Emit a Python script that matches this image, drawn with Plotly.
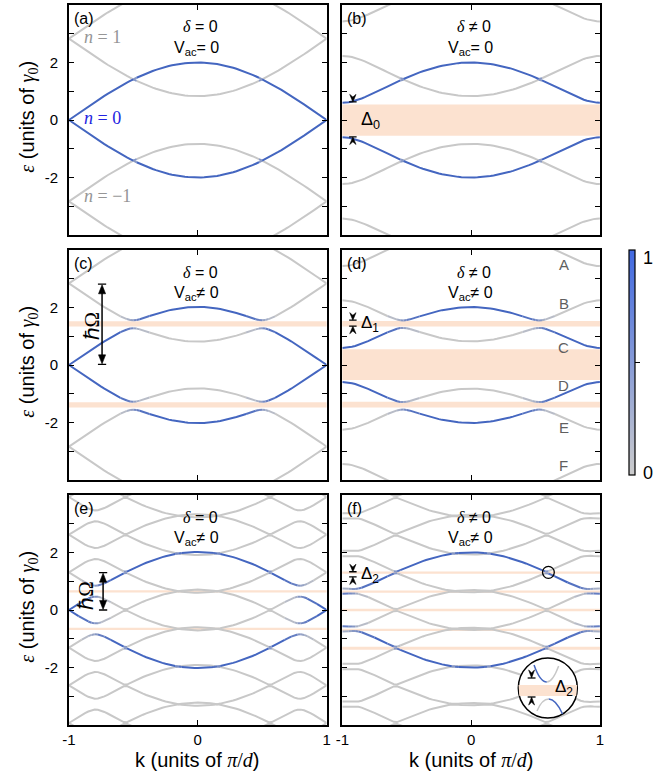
import numpy as np
import plotly.graph_objects as go

# ---------------- data ----------------
K_HALF = [-1.0, -0.975, -0.95, -0.925, -0.9, -0.875, -0.85, -0.825, -0.8, -0.775,
          -0.75, -0.725, -0.7, -0.675, -0.65, -0.625, -0.6, -0.575, -0.55, -0.525,
          -0.5, -0.475, -0.45, -0.425, -0.4, -0.375, -0.35, -0.325, -0.3, -0.275,
          -0.25, -0.225, -0.2, -0.175, -0.15, -0.125, -0.1, -0.075, -0.05, -0.025, 0.0]
# n = 0 band (upper branch), delta = 0
E_FLAT_HALF = [0.000, 0.079, 0.157, 0.235, 0.313, 0.390, 0.467, 0.543, 0.618, 0.692,
               0.765, 0.837, 0.908, 0.977, 1.045, 1.111, 1.176, 1.238, 1.299, 1.358,
               1.414, 1.469, 1.521, 1.571, 1.618, 1.663, 1.705, 1.745, 1.782, 1.816,
               1.848, 1.876, 1.902, 1.925, 1.945, 1.962, 1.975, 1.986, 1.994, 1.998, 2.000]
# n = 0 band (upper branch), delta != 0
E_GAP_HALF = [0.600, 0.605, 0.618, 0.641, 0.670, 0.706, 0.747, 0.793, 0.841, 0.892,
              0.945, 0.999, 1.054, 1.109, 1.164, 1.218, 1.272, 1.325, 1.377, 1.427,
              1.477, 1.524, 1.570, 1.614, 1.656, 1.696, 1.734, 1.770, 1.803, 1.834,
              1.862, 1.888, 1.911, 1.932, 1.950, 1.965, 1.978, 1.987, 1.994, 1.999, 2.000]

PANEL_TAGS = ["(a)", "(b)", "(c)", "(d)", "(e)", "(f)"]
OMEGA = [2.83, 2.83, 2.83, 2.83, 1.31, 1.31]          # hbar*Omega
DISPERSION = ["flat", "gap", "flat", "gap", "flat", "gap"]
G_INTER = [0.0, 0.0, 0.14, 0.13, 0.19, 0.08]           # drive coupling (interband)
G_INTRA = [0.0, 0.0, 0.0, 0.15, 0.0, 0.2]              # drive coupling (intraband)
N_REPLICA = [1, 1, 1, 1, 5, 5]
DELTA_TXT = ["= 0", "≠ 0", "= 0", "≠ 0", "= 0", "≠ 0"]
VAC_TXT = ["= 0", "= 0", "≠ 0", "≠ 0", "≠ 0", "≠ 0"]
GAP_BANDS = [
    [],
    [(-0.55, 0.54)],
    [(1.34, 1.52), (-1.48, -1.30)],
    [(1.34, 1.53), (-0.52, 0.55), (-1.48, -1.28)],
    [(0.61, 0.69), (-0.70, -0.62)],
    [(1.26, 1.34), (0.60, 0.68), (-0.04, 0.04), (-0.73, -0.65), (-1.38, -1.28)],
]
Y_TICKS = [-2, 0, 2]
Y_TICK_TEXT = ["-2", "0", "2"]
Y_MINOR = [-3, -1, 1, 3]
X_TICKS = [-1, 0, 1]
X_TICK_TEXT = ["-1", "0", "1"]
D_LABELS = ["A", "B", "C", "D", "E", "F"]
D_LABEL_E = [3.51, 2.14, 0.61, -0.73, -2.16, -3.48]
D_LABEL_K = 0.72

# ---------------- style ----------------
W, H = 659, 774
SANS = "Liberation Sans, Arial, sans-serif"
SERIF = "Liberation Serif, Times New Roman, serif"
GRAY = (200, 200, 200)
BLUE = (68, 102, 192)
PEACH = "rgb(252,226,208)"
LEVELS = 8
XL = [63, 341]
YT = [5, 250, 495]
PW, PH = 262, 230
KPX = 2.0 / PW
EPX = 8.0 / PH


def P(xp, yp):
    return xp / W, 1 - yp / H


def mix(t):
    c = [round(GRAY[i] + t * (BLUE[i] - GRAY[i])) for i in range(3)]
    return f"rgb({c[0]},{c[1]},{c[2]})"


K = K_HALF + [-k for k in K_HALF[-2::-1]]
E_FLAT = E_FLAT_HALF + E_FLAT_HALF[-2::-1]
E_GAP = E_GAP_HALF + E_GAP_HALF[-2::-1]


def floquet(E, omega, N, ga, gi):
    basis = [(n, s) for n in range(-N, N + 1) for s in (1, -1)]
    idx = {b: i for i, b in enumerate(basis)}
    dim = len(basis)
    V = {(1, -1): ga, (-1, 1): ga, (1, 1): gi, (-1, -1): -gi}
    mask = np.array([1.0 if b[0] == 0 else 0.0 for b in basis])
    vals = np.zeros((len(E), dim))
    wts = np.zeros((len(E), dim))
    for i, e in enumerate(E):
        Hm = np.zeros((dim, dim))
        for (n, s) in basis:
            Hm[idx[(n, s)], idx[(n, s)]] = n * omega + s * e
            if n < N:
                for s2 in (1, -1):
                    v = V[(s, s2)]
                    Hm[idx[(n, s)], idx[(n + 1, s2)]] = v
                    Hm[idx[(n + 1, s2)], idx[(n, s)]] = v
        w, U = np.linalg.eigh(Hm)
        vals[i] = w
        wts[i] = ((np.abs(U) ** 2) * mask[:, None]).sum(axis=0)
    return vals, wts


fig = go.Figure()
shapes = []
annots = []
layout_axes = {}

for p in range(6):
    row, col = p // 2, p % 2
    sfx = "" if p == 0 else str(p + 1)
    xa, ya = "x" + sfx, "y" + sfx
    E = E_FLAT if DISPERSION[p] == "flat" else E_GAP
    vals, wts = floquet(E, OMEGA[p], N_REPLICA[p], G_INTER[p], G_INTRA[p])
    segs = {l: ([], []) for l in range(LEVELS + 1)}
    nk = len(K)
    for j in range(vals.shape[1]):
        y = vals[:, j]
        w = wts[:, j]
        if np.all(np.abs(y) > 4.6):
            continue
        lev = [int(round(0.5 * (w[i] + w[i + 1]) * LEVELS)) for i in range(nk - 1)]
        start = 0
        for i in range(1, len(lev) + 1):
            if i == len(lev) or lev[i] != lev[start]:
                xs = K[start:i + 1]
                ys = list(y[start:i + 1])
                segs[lev[start]][0].extend(list(xs) + [None])
                segs[lev[start]][1].extend(ys + [None])
                start = i
    for l in range(LEVELS + 1):
        xs, ys = segs[l]
        if not xs:
            continue
        fig.add_trace(go.Scatter(x=xs, y=ys, mode="lines", xaxis=xa, yaxis=ya,
                                 line=dict(color=mix(l / LEVELS), width=2),
                                 hoverinfo="skip", showlegend=False, connectgaps=False))

    x0p, x1p = XL[col], XL[col] + PW
    y0p, y1p = YT[row], YT[row] + PH
    bottom = row == 2
    left = col == 0
    layout_axes["xaxis" + sfx] = dict(
        domain=[x0p / W, x1p / W], range=[-1, 1], anchor=ya,
        showline=True, mirror="ticks", linecolor="black", linewidth=1.6,
        ticks="inside", ticklen=5, tickwidth=1.2, tickcolor="black",
        tickvals=X_TICKS, ticktext=X_TICK_TEXT, showticklabels=bottom,
        ticklabelstandoff=0,
        tickfont=dict(family=SANS, size=15, color="black"),
        showgrid=False, zeroline=False, fixedrange=True)
    layout_axes["yaxis" + sfx] = dict(
        domain=[1 - y1p / H, 1 - y0p / H], range=[-4, 4], anchor=xa,
        showline=True, mirror="ticks", linecolor="black", linewidth=1.6,
        ticks="inside", ticklen=5, tickwidth=1.2, tickcolor="black",
        tickvals=Y_TICKS, ticktext=Y_TICK_TEXT, showticklabels=left,
        minor=dict(tickmode="array", tickvals=Y_MINOR, ticks="inside", ticklen=5,
                   tickwidth=1.2, tickcolor="black", showgrid=False),
        ticklabelstandoff=6,
        tickfont=dict(family=SANS, size=15, color="black"),
        showgrid=False, zeroline=False, fixedrange=True)

    for (b0, b1) in GAP_BANDS[p]:
        shapes.append(dict(type="rect", xref=xa + " domain", yref=ya, x0=0, x1=1,
                           y0=b0, y1=b1, fillcolor=PEACH, line=dict(width=0), layer="below"))

    # panel tag and parameter text
    tx, ty = P(x0p + 3, y0p + 13)
    annots.append(dict(x=tx, y=ty, xref="paper", yref="paper", xanchor="left", yanchor="middle",
                       text=PANEL_TAGS[p], showarrow=False, font=dict(family=SANS, size=16, color="black")))
    tx, ty = P(x0p + PW / 2 + 3, y0p + 22)
    annots.append(dict(x=tx, y=ty, xref="paper", yref="paper", xanchor="center", yanchor="middle",
                       text=f'<span style="font-family:{SERIF}"><i>δ</i></span> {DELTA_TXT[p]}',
                       showarrow=False, font=dict(family=SANS, size=16, color="black")))
    tx, ty = P(x0p + PW / 2 - 1, y0p + 43)
    annots.append(dict(x=tx, y=ty, xref="paper", yref="paper", xanchor="center", yanchor="middle",
                       text=f"V<sub>ac</sub>{VAC_TXT[p]}",
                       showarrow=False, font=dict(family=SANS, size=16, color="black")))
    if left:
        tx, ty = P(21, y0p + PH / 2 - 3)
        annots.append(dict(x=tx, y=ty, xref="paper", yref="paper", xanchor="center", yanchor="middle",
                           textangle=-90,
                           text=(f'<span style="font-family:{SERIF}"><i>ε</i></span> (units of '
                                 f'<span style="font-family:{SERIF}"><i>γ</i><sub>0</sub></span>)'),
                           showarrow=False, font=dict(family=SANS, size=20, color="black")))
    if bottom:
        tx, ty = P(x0p + PW / 2, 760)
        annots.append(dict(x=tx, y=ty, xref="paper", yref="paper", xanchor="center", yanchor="middle",
                           text=(f'k (units of <span style="font-family:{SERIF}"><i>π</i>/<i>d</i></span>)'),
                           showarrow=False, font=dict(family=SANS, size=20, color="black")))


def ax_names(p):
    sfx = "" if p == 0 else str(p + 1)
    return "x" + sfx, "y" + sfx


def head(p, xc, ytip, up, w_px=3.2, h_px=7.5, notch=0.35):
    xa, ya = ax_names(p)
    dx = w_px * KPX
    dy = h_px * EPX * (1 if up else -1)
    yb = ytip - dy
    yn = ytip - dy * (1 - notch)
    shapes.append(dict(type="path", xref=xa, yref=ya,
                       path=f"M {xc-dx},{yb} L {xc},{ytip} L {xc+dx},{yb} L {xc},{yn} Z",
                       fillcolor="black", line=dict(color="black", width=0.6)))


def bar(p, xc, y, w_px=3.8, width=1.3):
    xa, ya = ax_names(p)
    shapes.append(dict(type="line", xref=xa, yref=ya, x0=xc - w_px * KPX, x1=xc + w_px * KPX,
                       y0=y, y1=y, line=dict(color="black", width=width)))


def gap_marker(p, xc, ytop, ybot):
    bar(p, xc, ytop)
    head(p, xc, ytop, up=False)
    bar(p, xc, ybot)
    head(p, xc, ybot, up=True)


def text_at(p, k, e, txt, size, anchor="left", color="black", family=SANS, angle=0):
    xa, ya = ax_names(p)
    annots.append(dict(x=k, y=e, xref=xa, yref=ya, xanchor=anchor, yanchor="middle", text=txt,
                       showarrow=False, textangle=angle, font=dict(family=family, size=size, color=color)))


def omega_arrow(p, xc, y0, y1):
    xa, ya = ax_names(p)
    shapes.append(dict(type="line", xref=xa, yref=ya, x0=xc, x1=xc, y0=y0 + 0.2, y1=y1 - 0.2,
                       line=dict(color="black", width=1.5)))
    bar(p, xc, y0, w_px=4.2)
    bar(p, xc, y1, w_px=4.2)
    head(p, xc, y0 + 0.02, up=False, w_px=3.6, h_px=9, notch=0.0)
    head(p, xc, y1 - 0.02, up=True, w_px=3.6, h_px=9, notch=0.0)


# panel (a) replica labels
text_at(0, -0.90, 2.87, f"<i>n</i>\u00a0=\u00a01", 18, color="rgb(150,150,150)", family=SERIF)
text_at(0, -0.90, 0.08, f"<i>n</i>\u00a0=\u00a00", 18, color="rgb(35,35,225)", family=SERIF)
text_at(0, -0.90, -2.64, f"<i>n</i>\u00a0=\u00a0−1", 18, color="rgb(150,150,150)", family=SERIF)

# panel (b) gap marker
gap_marker(1, -0.918, 0.63, -0.59)
text_at(1, -0.87, -0.02, "Δ<sub>0</sub>", 18)

# panel (c) hbar Omega
omega_arrow(2, -0.743, 0.02, 2.81)
text_at(2, -0.825, 1.36, "ℏΩ", 21, anchor="center", family=SERIF, angle=-90)

# panel (d)
gap_marker(3, -0.918, 1.56, 1.35)
text_at(3, -0.868, 1.41, "Δ<sub>1</sub>", 17)
for lab, e in zip(D_LABELS, D_LABEL_E):
    text_at(3, D_LABEL_K, e, lab, 15, anchor="center", color="rgb(95,95,95)")

# panel (e) hbar Omega
omega_arrow(4, -0.735, 0.0, 1.30)
text_at(4, -0.87, 0.52, "ℏΩ", 21, anchor="center", family=SERIF, angle=-90)

# panel (f)
gap_marker(5, -0.918, 1.33, 1.15)
text_at(5, -0.868, 1.21, "Δ<sub>2</sub>", 17)
xa6, ya6 = ax_names(5)
rk, re = 6 * KPX, 6 * EPX
shapes.append(dict(type="circle", xref=xa6, yref=ya6, x0=0.6 - rk, x1=0.6 + rk,
                   y0=1.31 - re, y1=1.31 + re, line=dict(color="black", width=1.3)))

# inset circle of panel (f) (pixel layout)
cx, cy, r = 550, 688, 30
a0 = P(cx - r, cy + r)
a1 = P(cx + r, cy - r)
shapes.append(dict(type="circle", xref="paper", yref="paper", x0=a0[0], y0=a0[1], x1=a1[0], y1=a1[1],
                   fillcolor="white", line=dict(color="black", width=1.5)))


def ppath(pts, closed=False):
    s = ""
    for i, (cmd, coords) in enumerate(pts):
        s += cmd + " " + " ".join(f"{P(x, y)[0]:.5f},{P(x, y)[1]:.5f}" for x, y in coords) + " "
    return s + ("Z" if closed else "")


shapes.append(dict(type="path", xref="paper", yref="paper",
                   path=ppath([("M", [(cx - 29.8, 685)]), ("L", [(cx + 29.8, 685)]),
                               ("L", [(cx + 28.9, 696)]), ("L", [(cx - 28.9, 696)])], closed=True),
                   fillcolor=PEACH, line=dict(width=0)))
bl = mix(1.0)
gr = mix(0.0)
shapes.append(dict(type="path", xref="paper", yref="paper",
                   path=ppath([("M", [(536, 665)]), ("Q", [(542, 682), (549, 682)])]),
                   line=dict(color=bl, width=1.5)))
shapes.append(dict(type="path", xref="paper", yref="paper",
                   path=ppath([("M", [(549, 682)]), ("Q", [(555, 682), (561, 666)])]),
                   line=dict(color=gr, width=1.5)))
shapes.append(dict(type="path", xref="paper", yref="paper",
                   path=ppath([("M", [(539, 711)]), ("Q", [(544, 699), (551, 699)])]),
                   line=dict(color=gr, width=1.5)))
shapes.append(dict(type="path", xref="paper", yref="paper",
                   path=ppath([("M", [(551, 699)]), ("Q", [(558, 699), (565, 714)])]),
                   line=dict(color=bl, width=1.5)))
# inset gap marker (pixel layout)
for (yb, up) in [(678, False), (697, True)]:
    shapes.append(dict(type="path", xref="paper", yref="paper",
                       path=ppath([("M", [(529.5, yb)]), ("L", [(537.5, yb)])]),
                       line=dict(color="black", width=1.3)))
    d = 8 if not up else -8
    shapes.append(dict(type="path", xref="paper", yref="paper",
                       path=ppath([("M", [(530.5, yb - d)]), ("L", [(533.5, yb)]), ("L", [(536.5, yb - d)]),
                                   ("L", [(533.5, yb - 0.65 * d)])], closed=True),
                       fillcolor="black", line=dict(color="black", width=0.6)))
tx, ty = P(555, 688)
annots.append(dict(x=tx, y=ty, xref="paper", yref="paper", xanchor="left", yanchor="middle",
                   text="Δ<sub>2</sub>", showarrow=False, font=dict(family=SANS, size=17, color="black")))

# colorbar
fig.add_trace(go.Scatter(
    x=[None], y=[None], mode="markers", xaxis="x", yaxis="y", showlegend=False, hoverinfo="skip",
    marker=dict(color=[0.5], cmin=0, cmax=1,
                colorscale=[[0, "rgb(204,204,204)"], [1, "rgb(65,105,225)"]],
                showscale=True,
                colorbar=dict(thickness=6, thicknessmode="pixels", len=225, lenmode="pixels",
                              x=633 / W, xanchor="left", y=1 - 362.5 / H, yanchor="middle",
                              xpad=0, ypad=0, outlinewidth=1.2, outlinecolor="black",
                              tickvals=[0.5], ticks="outside", ticklen=5, tickcolor="black",
                              showticklabels=False))))
for lab, yp in [("1", 258), ("0", 473)]:
    tx, ty = P(645, yp)
    annots.append(dict(x=tx, y=ty, xref="paper", yref="paper", xanchor="left", yanchor="middle",
                       text=lab, showarrow=False, font=dict(family=SANS, size=18, color="black")))

fig.update_layout(width=W, height=H, margin=dict(l=0, r=0, t=0, b=0),
                  paper_bgcolor="white", plot_bgcolor="white",
                  shapes=shapes, annotations=annots, showlegend=False, **layout_axes)
fig.write_html("out.html")
